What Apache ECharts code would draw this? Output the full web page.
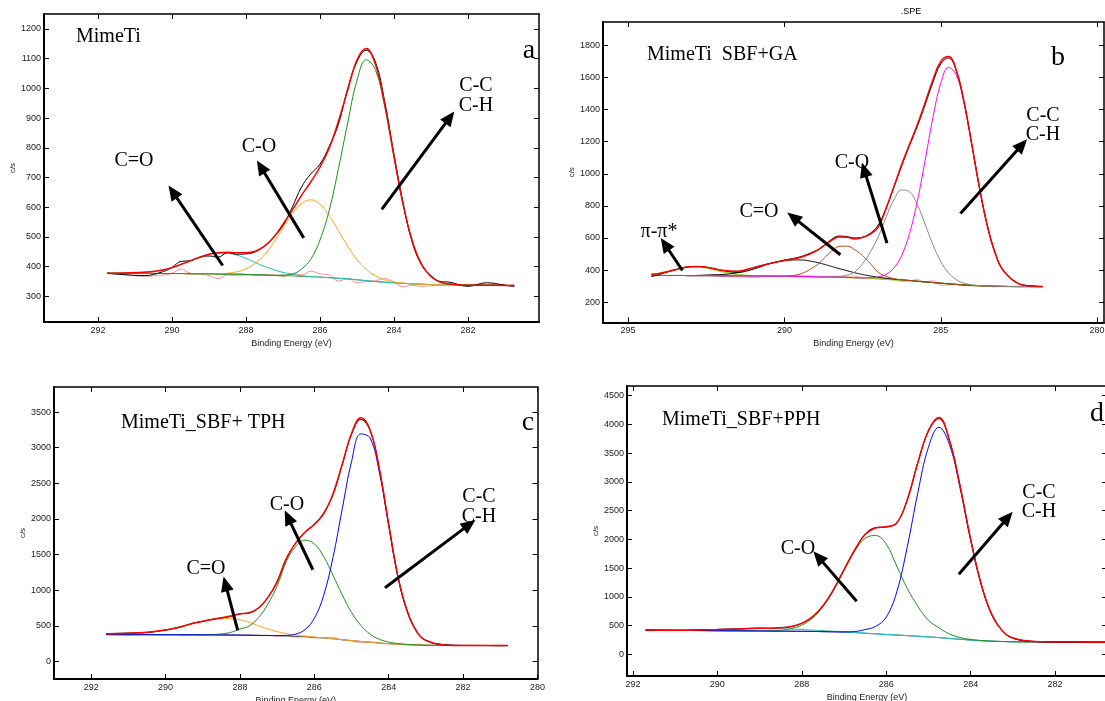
<!DOCTYPE html>
<html>
<head>
<meta charset="utf-8">
<title>C1s XPS fits</title>
<script src="https://cdn.jsdelivr.net/npm/echarts@6/dist/echarts.min.js"></script>
<style>
  html, body { margin: 0; padding: 0; background: #fff; }
  #chart { width: 1105px; height: 701px; }
</style>
</head>
<body>
<div id="chart"></div>
<script>
// ---- panel a : MimeTi ----
var aEnergy = [291.75, 291.25, 290.75, 290.25, 290, 289.75, 289.5, 289.25, 289, 288.75, 288.5, 288.25, 288, 287.75, 287.5, 287.25, 287, 286.75, 286.5, 286.25, 286, 285.75, 285.5, 285.25, 285, 284.75, 284.5, 284.25, 284, 283.75, 283.5, 283.25, 283, 282.75, 282.5, 282, 281.5, 281, 280.75];
var aBackground = [378, 378, 378, 377, 377, 377, 376, 376, 376, 375, 375, 375, 374, 373, 372, 371, 370, 369, 367, 366, 365, 363, 361, 359, 356, 353, 350, 348, 346, 344, 342, 341, 340, 339, 339, 338, 338, 337, 337];
var aCdO = [378, 379, 381, 389, 397, 408, 420, 432, 442, 446, 446, 439, 428, 414, 401, 390, 381, 375, 370, 367, 365, 363, 361, 359, 356, 353, 350, 348, 346, 344, 342, 341, 340, 339, 339, 338, 338, 337, 337];
var aCO = [378, 378, 378, 377, 377, 377, 376, 376, 376, 376, 378, 383, 393, 411, 440, 481, 530, 578, 612, 625, 610, 572, 521, 469, 424, 391, 369, 356, 349, 345, 342, 341, 340, 339, 339, 338, 338, 337, 337];
var aCC = [378, 378, 378, 377, 377, 377, 376, 376, 376, 375, 375, 375, 374, 373, 372, 371, 372, 375, 392, 425, 490, 590, 730, 884, 1027, 1096, 1061, 938, 769, 607, 484, 407, 367, 348, 342, 338, 338, 337, 337];
var aEnvelope = [378, 379, 381, 389, 397, 408, 420, 432, 442, 447, 449, 447, 447, 452, 469, 499, 543, 590, 640, 685, 735, 799, 890, 994, 1095, 1134, 1080, 946, 772, 608, 484, 407, 367, 348, 342, 338, 338, 337, 337];
var aRaw = [378, 373, 370, 383, 398, 418, 420, 432, 436, 432, 447, 442, 443, 450, 470, 500, 538, 600, 668, 712, 745, 805, 880, 1000, 1090, 1128, 1088, 955, 778, 612, 480, 405, 370, 350, 348, 334, 346, 338, 333];
var aResidual = [377, 372, 368, 372, 378, 392, 378, 376, 370, 360, 372, 370, 372, 371, 373, 372, 367, 375, 372, 385, 376, 372, 352, 360, 347, 350, 353, 360, 348, 333, 337, 334, 336, 339, 340, 336, 340, 337, 337];
var aXTicks = [282, 284, 286, 288, 290, 292];
var aYTicks = [300, 400, 500, 600, 700, 800, 900, 1000, 1100, 1200];
// arrows: [tail, head] in [eV, c/s]
var aArrows = [[[288.63, 404], [289.98, 652]], [[286.44, 497], [287.6, 736]], [[284.33, 593], [282.49, 902]]];

// ---- panel b : MimeTi SBF+GA ----
var bEnergy = [294.25, 294, 293.75, 293.5, 293.25, 293, 292.75, 292.5, 292.25, 292, 291.5, 291, 290.5, 290, 289.5, 289, 288.75, 288.5, 288.25, 288, 287.75, 287.5, 287.25, 287, 286.75, 286.5, 286.25, 286, 285.75, 285.5, 285.25, 285, 284.75, 284.5, 284.25, 284, 283.75, 283.5, 283.25, 283, 282.5, 282, 281.75];
var bBackground = [366, 366, 366, 366, 366, 365, 365, 365, 365, 364, 364, 363, 362, 361, 360, 358, 357, 356, 355, 354, 352, 350, 348, 346, 343, 340, 337, 334, 330, 326, 322, 318, 314, 310, 307, 304, 302, 300, 299, 298, 297, 297, 297];
var bPiPi = [373, 379, 389, 401, 413, 420, 420, 414, 403, 390, 372, 364, 362, 361, 360, 358, 357, 356, 355, 354, 352, 350, 348, 346, 343, 340, 337, 334, 330, 326, 322, 318, 314, 310, 307, 304, 302, 300, 299, 298, 297, 297, 297];
var bCdO = [366, 366, 366, 366, 366, 366, 367, 369, 371, 372, 384, 414, 439, 458, 463, 449, 437, 423, 409, 396, 383, 372, 363, 355, 349, 343, 339, 335, 330, 326, 322, 318, 314, 310, 307, 304, 302, 300, 299, 298, 297, 297, 297];
var bOCO = [366, 366, 366, 366, 366, 365, 365, 365, 365, 364, 364, 363, 362, 363, 375, 426, 470, 516, 547, 549, 527, 490, 440, 386, 361, 347, 339, 335, 330, 326, 322, 318, 314, 310, 307, 304, 302, 300, 299, 298, 297, 297, 297];
var bCO = [366, 366, 366, 366, 366, 365, 365, 365, 365, 364, 364, 363, 362, 361, 360, 358, 357, 357, 360, 368, 388, 440, 513, 606, 728, 837, 899, 888, 808, 686, 558, 454, 382, 340, 318, 308, 303, 300, 299, 298, 297, 297, 297];
var bCC = [366, 366, 366, 366, 366, 365, 365, 365, 365, 364, 364, 363, 362, 361, 360, 358, 357, 356, 355, 354, 352, 351, 352, 357, 373, 412, 491, 627, 828, 1083, 1350, 1564, 1663, 1614, 1433, 1172, 899, 667, 500, 397, 314, 299, 297];
var bEnvelope = [373, 379, 389, 401, 413, 421, 422, 418, 409, 398, 392, 415, 439, 460, 478, 517, 550, 584, 606, 605, 594, 603, 624, 666, 782, 919, 1057, 1183, 1306, 1443, 1586, 1700, 1731, 1644, 1444, 1176, 900, 667, 500, 397, 314, 299, 297];
var bRaw = [360, 372, 388, 402, 415, 421, 422, 418, 408, 398, 385, 405, 438, 462, 482, 520, 548, 590, 612, 608, 600, 605, 630, 680, 785, 915, 1050, 1175, 1295, 1430, 1570, 1685, 1722, 1640, 1440, 1175, 902, 668, 502, 398, 315, 300, 296];
var bResidual = [358, 368, 365, 367, 366, 364, 364, 366, 361, 360, 357, 353, 361, 363, 364, 361, 355, 362, 361, 357, 363, 352, 350, 355, 346, 344, 330, 333, 340, 325, 334, 306, 306, 312, 303, 303, 303, 299, 295, 298, 295, 298, 296];
var bXTicks = [280, 285, 290, 295];
var bYTicks = [200, 400, 600, 800, 1000, 1200, 1400, 1600, 1800];
var bArrows = [[[293.26, 397], [293.82, 561]], [[288.21, 495], [289.72, 730]], [[286.72, 568], [287.45, 1025]], [[284.37, 752], [282.4, 1181]]];

// ---- panel c : MimeTi_SBF+ TPH ----
var cEnergy = [291.6, 291, 290.5, 290, 289.75, 289.5, 289.25, 289, 288.75, 288.5, 288.25, 288, 287.75, 287.5, 287.25, 287, 286.75, 286.5, 286.25, 286, 285.75, 285.5, 285.25, 285, 284.75, 284.5, 284.25, 284, 283.75, 283.5, 283.25, 283, 282.5, 282, 281.5, 281, 280.8];
var cBackground = [377, 376, 376, 375, 375, 374, 374, 373, 373, 372, 371, 370, 368, 366, 364, 361, 357, 352, 346, 338, 329, 318, 306, 293, 281, 269, 259, 250, 243, 237, 232, 228, 225, 224, 224, 223, 223];
var cCdO = [388, 396, 410, 440, 465, 500, 535, 563, 585, 598, 600, 585, 550, 500, 456, 419, 391, 371, 356, 343, 331, 319, 306, 293, 281, 269, 259, 250, 243, 237, 232, 228, 225, 224, 224, 223, 223];
var cCO = [377, 376, 376, 375, 375, 374, 374, 375, 378, 387, 408, 455, 498, 616, 804, 1061, 1406, 1610, 1702, 1651, 1472, 1212, 934, 689, 506, 384, 311, 272, 251, 240, 232, 228, 225, 224, 224, 223, 223];
var cCC = [377, 376, 376, 375, 375, 374, 374, 373, 373, 372, 371, 370, 368, 366, 364, 363, 366, 384, 447, 605, 927, 1456, 2141, 2803, 3193, 3133, 2648, 1900, 1180, 700, 420, 295, 232, 224, 224, 223, 223];
var cEnvelope = [388, 396, 410, 440, 465, 500, 535, 565, 590, 613, 637, 670, 680, 750, 896, 1121, 1449, 1661, 1813, 1923, 2072, 2351, 2769, 3199, 3418, 3248, 2700, 1922, 1188, 703, 420, 295, 232, 224, 224, 223, 223];
var cRaw = [392, 398, 405, 442, 468, 498, 540, 562, 592, 610, 632, 668, 685, 755, 900, 1118, 1445, 1665, 1820, 1930, 2085, 2340, 2760, 3185, 3395, 3240, 2690, 1915, 1190, 700, 425, 296, 235, 226, 225, 222, 224];
var cResidual = [378, 372, 380, 373, 377, 371, 376, 369, 375, 370, 374, 366, 372, 362, 368, 357, 362, 340, 350, 330, 336, 340, 300, 290, 262, 275, 255, 246, 250, 228, 238, 222, 226, 224, 222, 225, 223];
var cXTicks = [280, 282, 284, 286, 288, 290, 292];
var cYTicks = [0, 500, 1000, 1500, 2000, 2500, 3000, 3500];
var cArrows = [[[288.06, 435], [288.39, 1090]], [[286.04, 1287], [286.71, 2025]], [[284.1, 1034], [281.83, 1923]]];

// ---- panel d : MimeTi_SBF+PPH ----
var dEnergy = [291.7, 291, 290.5, 290, 289.5, 289, 288.75, 288.5, 288.25, 288, 287.75, 287.5, 287.25, 287, 286.75, 286.5, 286.25, 286, 285.75, 285.5, 285.25, 285, 284.75, 284.5, 284.25, 284, 283.75, 283.5, 283.25, 283, 282.5, 282, 281.5, 281, 280.8];
var dBackground = [418, 415, 413, 410, 408, 406, 404, 402, 401, 400, 398, 395, 390, 385, 376, 366, 355, 345, 335, 325, 314, 303, 290, 276, 262, 248, 237, 228, 222, 218, 216, 214, 212, 210, 210];
var dCdO = [418, 418, 422, 430, 442, 450, 449, 445, 439, 431, 422, 412, 401, 392, 380, 368, 356, 345, 335, 325, 314, 303, 290, 276, 262, 248, 237, 228, 222, 218, 216, 214, 212, 210, 210];
var dCO = [418, 415, 413, 410, 408, 408, 409, 418, 446, 507, 626, 826, 1112, 1458, 1789, 2017, 2067, 1919, 1535, 1145, 834, 593, 461, 353, 292, 259, 240, 228, 222, 218, 216, 214, 212, 210, 210];
var dCC = [418, 415, 413, 410, 408, 406, 404, 402, 401, 400, 398, 395, 391, 390, 395, 430, 485, 645, 1085, 1875, 2814, 3603, 3949, 3646, 2894, 1991, 1216, 694, 410, 282, 221, 214, 212, 210, 210];
var dEnvelope = [418, 418, 422, 430, 442, 452, 454, 461, 484, 538, 650, 843, 1124, 1470, 1812, 2083, 2198, 2219, 2285, 2695, 3334, 3893, 4120, 3723, 2924, 2002, 1219, 694, 410, 282, 221, 214, 212, 210, 210];
var dRaw = [425, 418, 420, 433, 440, 455, 452, 465, 480, 540, 648, 845, 1120, 1475, 1810, 2090, 2205, 2215, 2290, 2690, 3340, 3880, 4100, 3715, 2930, 2000, 1222, 690, 412, 280, 224, 216, 213, 211, 214];
var dResidual = [420, 412, 416, 408, 410, 404, 406, 400, 404, 396, 400, 390, 392, 380, 380, 362, 358, 340, 338, 320, 316, 300, 292, 272, 264, 244, 240, 225, 224, 216, 218, 212, 213, 209, 211];
var dXTicks = [282, 284, 286, 288, 290, 292];
var dYTicks = [0, 500, 1000, 1500, 2000, 2500, 3000, 3500, 4000, 4500];
var dArrows = [[[286.7, 923], [287.61, 1695]], [[284.28, 1394], [283.12, 2382]]];

var chart = echarts.init(document.getElementById('chart'));

var sans = '"Liberation Sans", Arial, sans-serif';
var serif = '"Liberation Serif", "Times New Roman", serif';

var panels = [
  {
    grid: {left: 44, top: 14, width: 495, height: 308},
    x: [280.08, 293.46], y: [214, 1250], xTicks: aXTicks, yTicks: aYTicks, nameGap: 25,
    energy: aEnergy, arrows: aArrows,
    lines: [
      [aResidual, '#ff9090', 1], [aBackground, '#5a8a46', 1], [aCdO, '#1fbfbf', 1],
      [aCO, '#ffa31a', 1], [aCC, '#1f8f1f', 1], [aRaw, '#000000', 1], [aEnvelope, '#ff0000', 1.5]
    ]
  },
  {
    grid: {left: 603, top: 22, width: 501, height: 300.5},
    x: [279.78, 295.8], y: [73, 1946], xTicks: bXTicks, yTicks: bYTicks, nameGap: 27,
    energy: bEnergy, arrows: bArrows,
    lines: [
      [bResidual, '#ff9a9a', 1], [bBackground, '#5cb82e', 1], [bPiPi, '#9acd32', 1.5],
      [bCdO, '#111111', 1], [bOCO, '#b4501e', 1], [bCO, '#8a8a8a', 1], [bCC, '#ff00ff', 1],
      [bRaw, '#000000', 1], [bEnvelope, '#ff0000', 1.5]
    ]
  },
  {
    grid: {left: 54, top: 387, width: 483.5, height: 292},
    x: [280, 293], y: [-246, 3851], xTicks: cXTicks, yTicks: cYTicks, nameGap: 25,
    energy: cEnergy, arrows: cArrows,
    lines: [
      [cResidual, '#ff9a9a', 1], [cBackground, '#555555', 1], [cCdO, '#ffa31a', 1],
      [cCO, '#1f8f1f', 1], [cCC, '#0000ff', 1], [cRaw, '#000000', 1], [cEnvelope, '#ff0000', 1.5]
    ]
  },
  {
    grid: {left: 627, top: 386, width: 480, height: 290},
    x: [280.77, 292.14], y: [-378, 4669], xTicks: dXTicks, yTicks: dYTicks, nameGap: 23,
    energy: dEnergy, arrows: dArrows,
    lines: [
      [dResidual, '#ff9a9a', 1], [dBackground, '#3a9a9a', 1], [dCdO, '#20c0c0', 1],
      [dCO, '#1f8f1f', 1], [dCC, '#0000ff', 1], [dRaw, '#000000', 1], [dEnvelope, '#ff0000', 1.5]
    ]
  }
];

function toPairs(xs, ys) {
  var out = [];
  for (var i = 0; i < xs.length; i++) {
    out.push([xs[i], ys[i]]);
  }
  return out;
}

function plainNumber(v) {
  return String(v);
}

var grids = [], xAxes = [], yAxes = [], series = [];

panels.forEach(function (p, i) {
  var g = p.grid;
  g.outerBoundsMode = 'none';
  g.containLabel = false;
  grids.push(g);
  var frame = {show: true, onZero: false, lineStyle: {color: '#000', width: 2}};
  var frameThin = {show: true, onZero: false, lineStyle: {color: '#000', width: 1.5}};
  xAxes.push({
    type: 'value', gridIndex: i, inverse: true, position: 'bottom',
    min: p.x[0], max: p.x[1],
    axisLine: frame,
    axisTick: {inside: true, length: 5, customValues: p.xTicks, lineStyle: {color: '#000', width: 1}},
    axisLabel: {customValues: p.xTicks, formatter: plainNumber, fontSize: 9, color: '#222', margin: 4, fontFamily: sans},
    splitLine: {show: false},
    name: 'Binding Energy (eV)', nameLocation: 'middle', nameGap: 17,
    nameTextStyle: {fontSize: 9, color: '#222', fontFamily: sans}
  });
  xAxes.push({
    type: 'value', gridIndex: i, inverse: true, position: 'top',
    min: p.x[0], max: p.x[1],
    axisLine: frameThin,
    axisTick: {inside: true, length: 5, customValues: p.xTicks, lineStyle: {color: '#000', width: 1}},
    axisLabel: {show: false}, splitLine: {show: false}
  });
  yAxes.push({
    type: 'value', gridIndex: i, position: 'left',
    min: p.y[0], max: p.y[1],
    axisLine: frame,
    axisTick: {inside: true, length: 5, customValues: p.yTicks, lineStyle: {color: '#000', width: 1}},
    axisLabel: {customValues: p.yTicks, formatter: plainNumber, fontSize: 9, color: '#222', margin: 3, fontFamily: sans},
    splitLine: {show: false},
    name: 'c/s', nameLocation: 'middle', nameGap: p.nameGap, nameRotate: 90,
    nameTextStyle: {fontSize: 8, color: '#222', fontFamily: sans}
  });
  yAxes.push({
    type: 'value', gridIndex: i, position: 'right',
    min: p.y[0], max: p.y[1],
    axisLine: frameThin,
    axisTick: {inside: true, length: 5, customValues: p.yTicks, lineStyle: {color: '#000', width: 1}},
    axisLabel: {show: false}, splitLine: {show: false}
  });

  p.lines.forEach(function (l) {
    series.push({
      type: 'line', xAxisIndex: 2 * i, yAxisIndex: 2 * i,
      data: toPairs(p.energy, l[0]),
      symbol: 'none', smooth: 0.4, silent: true,
      lineStyle: {color: l[1], width: l[2]}
    });
  });

  // annotation arrows
  series.push({
    type: 'line', xAxisIndex: 2 * i, yAxisIndex: 2 * i, data: [], silent: true, z: 5,
    markLine: {
      silent: true, symbol: ['none', 'triangle'], symbolSize: [13, 15],
      label: {show: false},
      lineStyle: {color: '#000', width: 3, type: 'solid'},
      emphasis: {disabled: true},
      data: p.arrows.map(function (a) {
        return [{coord: a[0]}, {coord: a[1]}];
      })
    }
  });
});

function txt(text, x, y, size, align, family) {
  return {
    type: 'text', x: x, y: y, silent: true, z: 10,
    style: {
      text: text, fill: '#000', align: align || 'center', verticalAlign: 'middle',
      font: size + 'px ' + (family || serif)
    }
  };
}

var graphics = [
  // a
  txt('MimeTi', 76, 37, 20, 'left'),
  txt('a', 529, 51, 28),
  txt('C=O', 134, 161, 20),
  txt('C-O', 259, 147, 20),
  txt('C-C', 476, 86, 20),
  txt('C-H', 476, 106, 20),
  // b
  txt('.SPE', 911, 12, 9, 'center', sans),
  txt('MimeTi  SBF+GA', 647, 55, 20, 'left'),
  txt('b', 1058, 58, 28),
  txt('C-C', 1043, 116, 20),
  txt('C-H', 1043, 135, 20),
  txt('C-O', 852, 163, 20),
  txt('C=O', 759, 212, 20),
  txt('π-π*', 659, 232, 20),
  // c
  txt('MimeTi_SBF+ TPH', 121, 423, 20, 'left'),
  txt('c', 528, 423, 28),
  txt('C-O', 287, 505, 20),
  txt('C=O', 206, 569, 20),
  txt('C-C', 479, 497, 20),
  txt('C-H', 479, 517, 20),
  // d
  txt('MimeTi_SBF+PPH', 662, 420, 20, 'left'),
  txt('d', 1097, 414, 28),
  txt('C-O', 798, 549, 20),
  txt('C-C', 1039, 493, 20),
  txt('C-H', 1039, 512, 20)
];

chart.setOption({
  backgroundColor: '#ffffff',
  animation: false,
  grid: grids,
  xAxis: xAxes,
  yAxis: yAxes,
  series: series,
  graphic: graphics
});
</script>
</body>
</html>
